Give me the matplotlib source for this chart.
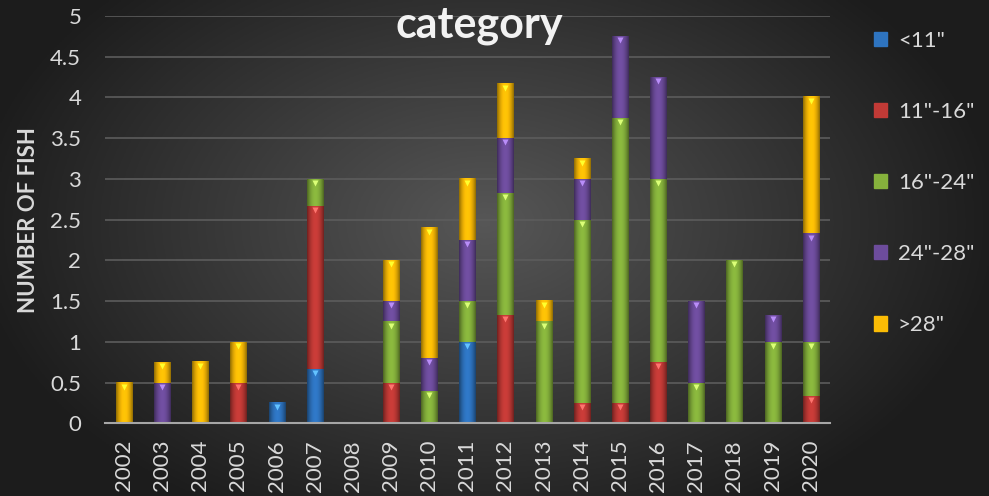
import matplotlib.pyplot as plt
import matplotlib.patches as mpatches
import numpy as np

# years on the x axis
years = ['2002', '2003', '2004', '2005', '2006', '2007', '2008', '2009', '2010', '2011',
         '2012', '2013', '2014', '2015', '2016', '2017', '2018', '2019', '2020']

# number of fish per size category
lt11 = [0, 0, 0, 0, 0.25, 0.67, 0, 0, 0, 1.0, 0, 0, 0, 0, 0, 0, 0, 0, 0]
s11_16 = [0, 0, 0, 0.5, 0, 2.0, 0, 0.5, 0, 0, 1.33, 0, 0.25, 0.25, 0.75, 0, 0, 0, 0.33]
s16_24 = [0, 0, 0, 0, 0, 0.33, 0, 0.75, 0.4, 0.5, 1.5, 1.25, 2.25, 3.5, 2.25, 0.5, 2.0, 1.0, 0.67]
s24_28 = [0, 0.5, 0, 0, 0, 0, 0, 0.25, 0.4, 0.75, 0.67, 0, 0.5, 1.0, 1.25, 1.0, 0, 0.33, 1.33]
gt28 = [0.5, 0.25, 0.75, 0.5, 0, 0, 0, 0.5, 1.6, 0.75, 0.67, 0.25, 0.25, 0, 0, 0, 0, 0, 1.67]

series = [lt11, s11_16, s16_24, s24_28, gt28]
labels = ['<11"', '11"-16"', '16"-24"', '24"-28"', '>28"']
colors = ['#2e74c0', '#c23a36', '#86b23c', '#6d4c9c', '#fbbc05']

plt.rcParams['font.family'] = ['Lato', 'DejaVu Sans']
txt = '#d9d9d9'

fig = plt.figure(figsize=(9.89, 4.96), dpi=100)

# dark radial gradient background
bg = fig.add_axes([0, 0, 1, 1], zorder=-1)
gx, gy = np.meshgrid(np.linspace(-1, 1, 400), np.linspace(-1, 1, 200))
r = np.sqrt(((gx + 0.02) / 1.0) ** 2 + ((gy + 0.1) / 1.3) ** 2)
shade = np.clip(0.34 - 0.22 * r, 0.11, 0.35)
bg.imshow(np.dstack([shade, shade, shade]), extent=(0, 1, 0, 1), aspect='auto')
bg.axis('off')

ax = fig.add_axes([0.106, 0.1466, 0.733, 0.8214])
ax.set_facecolor('none')

x = np.arange(len(years))
w = 0.42
bottom = np.zeros(len(years))
# horizontal shading profile for the bevel look
prof = np.linspace(-1, 1, 40)
light = 1 - 0.45 * prof ** 2
for vals, col, lab in zip(series, colors, labels):
    vals = np.array(vals)
    ax.bar(x, vals, w, bottom=bottom, color=col, label=lab, zorder=3)
    rgb = np.array(plt.matplotlib.colors.to_rgb(col))
    for xi, b, v in zip(x, bottom, vals):
        if v <= 0:
            continue
        img = np.clip(rgb[None, None, :] * light[None, :, None] * 1.05, 0, 1)
        ax.imshow(img, extent=(xi - w / 2, xi + w / 2, b, b + v), aspect='auto', zorder=4)
        # small highlight at the top of each segment
        ax.plot(xi, b + v - 0.05, marker='v', ms=5, color=np.clip(rgb * 1.35 + 0.15, 0, 1),
                mec='none', zorder=5)
    bottom += vals

ax.set_xlim(-0.5, len(years) - 0.5)
ax.set_ylim(0, 5)
ax.set_yticks(np.arange(0, 5.01, 0.5))
ax.set_yticklabels(['0', '0.5', '1', '1.5', '2', '2.5', '3', '3.5', '4', '4.5', '5'])
ax.set_xticks(x)
ax.set_xticklabels(years, rotation=90)
ax.tick_params(colors=txt, labelsize=16, length=0)
ax.tick_params(axis='y', pad=17)
ax.tick_params(axis='x', pad=12)
ax.yaxis.grid(True, color='#5c5c5c', lw=1.2, zorder=0)
for s in ['top', 'right', 'left']:
    ax.spines[s].set_visible(False)
ax.spines['bottom'].set_color('#a6a6a6')
ax.spines['bottom'].set_linewidth(1.5)
ax.spines['bottom'].set_zorder(6)

ax.set_ylabel('NUMBER OF FISH', color=txt, fontsize=16, fontweight='bold', labelpad=8)
fig.text(0.485, 0.95, 'category', color='#f2f2f2', fontsize=31, fontweight='bold',
         ha='center', va='center')

handles = [mpatches.Patch(color=c, label=l) for c, l in zip(colors, labels)]
fig.legend(handles=handles, loc='upper left', bbox_to_anchor=(0.863, 0.978), frameon=False,
           fontsize=16, labelcolor=txt, handlelength=0.6, handleheight=0.6,
           handletextpad=0.5, labelspacing=2.3)

plt.savefig('out.png', dpi=100)
